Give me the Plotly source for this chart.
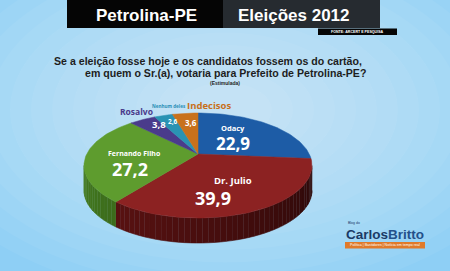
import numpy as np
import plotly.graph_objects as go

# ---- data ----
labels = ["Odacy", "Dr. Julio", "Fernando Filho", "Rosalvo", "Nenhum deles", "Indecisos"]
values = [22.9, 39.9, 27.2, 3.8, 2.6, 3.6]
title_left = "Petrolina-PE"
title_right = "Eleições 2012"
source = "FONTE: ARCERT E PESQUISA"
question = ["Se a eleição fosse hoje e os candidatos fossem os do cartão,",
            "em quem o Sr.(a), votaria para Prefeito de Petrolina-PE?"]
subtitle = "(Estimulada)"

# ---- style ----
top_colors = ["#1d5ca6", "#8c2222", "#5e9c2e", "#4a3b8b", "#2a93b3", "#c8711c"]
side_colors = ["#123a6c", "#5a1212", "#3d6d1c", "#2e2460", "#1a6078", "#8a4b10"]
cx, cy, rx, ry, depth = 198, 165.5, 114, 52.5, 25
apx, apy = 198, 154

fig = go.Figure()

def rim(phi_deg):
    p = np.radians(phi_deg)
    return cx + rx * np.sin(p), cy - ry * np.cos(p)

total = sum(values)
bounds = np.concatenate([[0], np.cumsum(values) / total * 360])

# sides (front half only)
for i in range(len(values)):
    a0, a1 = max(bounds[i], 90), min(bounds[i + 1], 270)
    if a1 <= a0:
        continue
    n = max(2, int((a1 - a0) / 3))
    phis = np.linspace(a0, a1, n + 1)
    base = np.array([int(side_colors[i][k:k + 2], 16) for k in (1, 3, 5)])
    for j in range(n):
        f = 0.5 + 0.65 * ((phis[j] - 90) / 180)  # darker to the right
        col = np.clip(base * f, 0, 255).astype(int)
        seg = np.linspace(phis[j], phis[j + 1], 4)
        xs, ys = rim(seg)
        X = list(xs) + list(xs[::-1])
        Y = list(ys) + list(ys[::-1] + depth)
        c = "rgb(%d,%d,%d)" % tuple(col)
        fig.add_trace(go.Scatter(x=X, y=Y, fill="toself", mode="lines",
                                 line=dict(color=c, width=0.6), fillcolor=c,
                                 hoverinfo="skip", showlegend=False))

# top faces
for i in range(len(values)):
    phis = np.linspace(bounds[i], bounds[i + 1], 60)
    xs, ys = rim(phis)
    X = [apx] + list(xs) + [apx]
    Y = [apy] + list(ys) + [apy]
    fig.add_trace(go.Scatter(x=X, y=Y, fill="toself", mode="lines",
                             line=dict(color=top_colors[i], width=0.5),
                             fillcolor=top_colors[i], hoverinfo="skip",
                             showlegend=False))

def fmt(v):
    return ("%.1f" % v).replace(".", ",")

ann = []
def A(x, y, t, size, color="white", font="Open Sans", bold=True, **kw):
    ann.append(dict(x=x, y=y, xref="x", yref="y", text=("<b>%s</b>" % t) if bold else t,
                    showarrow=False, font=dict(family=font, size=size, color=color),
                    xanchor=kw.get("xanchor", "center"), yanchor="middle"))

# pie labels
A(233, 128, labels[0], 7.5)
A(233, 143, fmt(values[0]), 17)
A(233, 180, labels[1], 9.5)
A(213, 198, fmt(values[1]), 18)
A(134, 153, labels[2], 7)
A(130, 169, fmt(values[2]), 18)
A(136, 111, labels[3], 8.5, color="#4a3b8b")
A(159, 124, fmt(values[3]), 9.5)
A(169, 106, labels[4], 4.6, color="#2a8fb5")
A(173, 121, fmt(values[4]), 6.5)
A(209, 105, labels[5], 9.5, color="#c8701a")
A(191, 122, fmt(values[5]), 8)

# header
A(146, 15, title_left, 17, font="Liberation Sans")
A(294, 15, title_right, 17, font="Liberation Sans")
A(357, 31.6, source, 3.6, font="Liberation Sans")
# question
A(52, 61, question[0], 10.6, color="#1e1e1e", font="Liberation Sans", xanchor="left")
A(83, 73, question[1], 10.6, color="#1e1e1e", font="Liberation Sans", xanchor="left")
A(225, 83, subtitle, 5, color="#1e1e1e", font="Liberation Sans")
# logo
A(354, 223, "Blog do", 3.5, color="#1a3a66", font="Liberation Sans", bold=False)
A(385, 234, "<span style='color:#1a3a66'>Carlos</span><span style='color:#24508a'>Britto</span>",
  13.5, font="Liberation Sans")
A(385, 245.3, "Política | Bastidores | Notícia em tempo real", 3.6, font="Liberation Sans", bold=False)

shapes = []
# background glow (soft radial)
for k in range(14):
    sx, sy = 320 - 21 * k, 190 - 12.5 * k
    shapes.append(dict(type="circle", xref="x", yref="y", x0=225 - sx, x1=225 + sx,
                       y0=110 - sy, y1=110 + sy, fillcolor="white", opacity=0.05,
                       line=dict(width=0), layer="below"))
shapes += [
    dict(type="rect", xref="x", yref="y", x0=67, x1=223, y0=0, y1=28,
         fillcolor="#050505", line=dict(width=0), layer="below"),
    dict(type="rect", xref="x", yref="y", x0=223, x1=380, y0=0, y1=28,
         fillcolor="#262b30", line=dict(width=0), layer="below"),
    dict(type="rect", xref="x", yref="y", x0=318, x1=397, y0=28.5, y1=35,
         fillcolor="#050505", line=dict(width=0), layer="below"),
    dict(type="rect", xref="x", yref="y", x0=345, x1=425, y0=242, y1=248.5,
         fillcolor="#e07a2a", line=dict(width=0), layer="below"),
]

fig.update_layout(
    width=450, height=271, margin=dict(l=0, r=0, t=0, b=0),
    paper_bgcolor="#8ecff5", plot_bgcolor="rgba(0,0,0,0)",
    xaxis=dict(range=[0, 450], visible=False, fixedrange=True),
    yaxis=dict(range=[271, 0], visible=False, fixedrange=True),
    annotations=ann, shapes=shapes, showlegend=False,
)
fig.write_html("out.html")
